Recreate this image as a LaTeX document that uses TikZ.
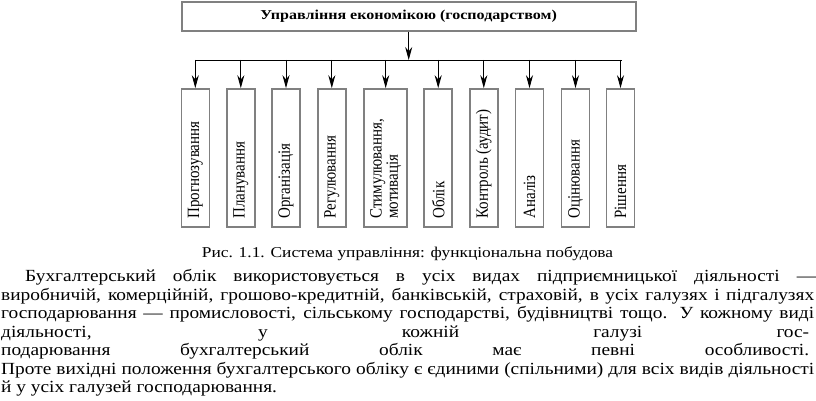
\documentclass[tikz,border=0pt]{standalone}
\usepackage{fontspec}
\setmainfont{Liberation Serif}
\newfontfamily\bodyfont{Liberation Serif}[FakeStretch=1.14]
\newfontfamily\capfont{Liberation Serif}[FakeStretch=1.16]
\newfontfamily\topfont{Liberation Serif}[FakeStretch=1.18]
\usetikzlibrary{arrows.meta,calc}
\newcommand{\rlab}[1]{\scalebox{1}[1.15]{#1}}
\tikzset{
  grayframe/.style={draw=black!50, line width=1.6pt, inner sep=0pt},
  topbox/.style={grayframe, minimum width=454pt, minimum height=29pt, font=\topfont\fontsize{13.6}{16}\selectfont\bfseries},
  fbox/.style={grayframe, minimum height=138pt, minimum width=28pt},
  fboxw/.style={grayframe, minimum height=138pt, minimum width=43pt},
  flabel/.style={rotate=90, anchor=west, inner sep=0pt, align=left, font=\fontsize{15}{13}\selectfont},
  conn/.style={draw=black, line width=0.9pt, -{Stealth[length=13pt,width=7pt]}},
  bus/.style={draw=black, line width=0.9pt},
  para/.style={anchor=base west, inner sep=0pt, font=\bodyfont\fontsize{17}{18.5}\selectfont},
  caption/.style={anchor=base, inner sep=0pt, font=\capfont\fontsize{15}{16}\selectfont}
}
\begin{document}
\begin{tikzpicture}[x=1pt,y=1pt]
\useasboundingbox (0,0) rectangle (816,401);
\node[topbox] (top) at (408.7,384.5) {Управління економікою (господарством)};
\coordinate (busmid) at (408.7,341);
\coordinate (busL) at (195.3,341);
\coordinate (busR) at (622,341);
\draw[conn] (top.south) -- (busmid);
\draw[bus] (busL) -- (busR);
\node[fbox]  (b1)  at (195.3,243) {};
\node[fbox]  (b2)  at (240.8,243) {};
\node[fbox]  (b3)  at (286,243) {};
\node[fbox]  (b4)  at (331.8,243) {};
\node[fboxw] (b5)  at (385.7,243) {};
\node[fbox]  (b6)  at (438.2,243) {};
\node[fbox]  (b7)  at (483.8,243) {};
\node[fbox]  (b8)  at (529.5,243) {};
\node[fbox]  (b9)  at (575.5,243) {};
\node[fbox]  (b10) at (620.5,243) {};
\foreach \i in {1,...,10}{
  \draw[conn] (b\i.north |- busmid) -- (b\i.north);
}
\node[flabel] (l1)  at ($(b1.south)+(0,9)$)  {\rlab{Прогнозування}};
\node[flabel] (l2)  at ($(b2.south)+(0,9)$)  {\rlab{Планування}};
\node[flabel] (l3)  at ($(b3.south)+(0,9)$)  {\rlab{Організація}};
\node[flabel] (l4)  at ($(b4.south)+(0,9)$)  {\rlab{Регулювання}};
\node[flabel] (l5)  at ($(b5.south)+(0,9)$)  {\rlab{Стимулювання,}\\\rlab{мотивація}};
\node[flabel] (l6)  at ($(b6.south)+(0,9)$)  {\rlab{Облік}};
\node[flabel] (l7)  at ($(b7.south)+(0,9)$)  {\rlab{Контроль (аудит)}};
\node[flabel] (l8)  at ($(b8.south)+(0,9)$)  {\rlab{Аналіз}};
\node[flabel] (l9)  at ($(b9.south)+(0,9)$)  {\rlab{Оцінювання}};
\node[flabel] (l10) at ($(b10.south)+(0,9)$) {\rlab{Рішення}};
\node[caption] (cap) at (407.5,143) {Рис. 1.1. Система управління: функціональна побудова};
\node[para] (p1) at (25,119.3) {\makebox[791pt][s]{Бухгалтерський облік використовується в усіх видах підприємницької діяльності —}};
\node[para] (p2) at (1,100.8) {\makebox[813pt][s]{виробничій, комерційній, грошово-кредитній, банківській, страховій, в усіх галузях і підгалузях}};
\node[para] (p3) at (1,82.3) {\makebox[813pt][s]{господарювання — промисловості, сільському господарстві, будівництві тощо. У кожному виді}};
\node[para] (p4) at (1,63.8) {\makebox[808pt][s]{діяльності, у кожній галузі гос-}};
\node[para] (p5) at (1,45.3) {\makebox[808pt][s]{подарювання бухгалтерський облік має певні особливості.}};
\node[para] (p6) at (1,26.8) {\makebox[813pt][s]{Проте вихідні положення бухгалтерського обліку є єдиними (спільними) для всіх видів діяльності}};
\node[para] (p7) at (1,8.3) {й у усіх галузей господарювання.};
\end{tikzpicture}
\end{document}
